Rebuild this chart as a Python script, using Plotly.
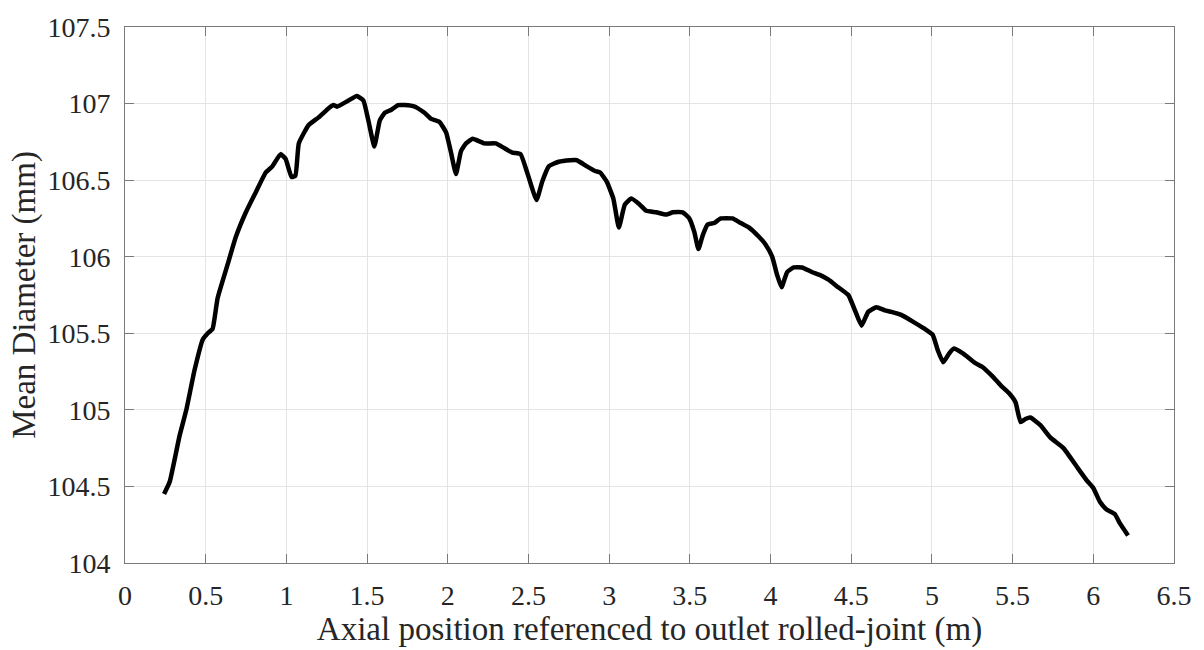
import plotly.graph_objects as go

axial_position_m = [
    0.242, 0.277, 0.338, 0.38, 0.431, 0.482, 0.513, 0.543, 0.574, 0.636, 0.687,
    0.749, 0.81, 0.872, 0.913, 0.964, 0.995, 1.032, 1.056, 1.077, 1.138, 1.2,
    1.262, 1.292, 1.313, 1.385, 1.436, 1.477, 1.508, 1.545, 1.579, 1.61, 1.651,
    1.692, 1.733, 1.795, 1.856, 1.897, 1.949, 1.99, 2.02, 2.051, 2.082, 2.113,
    2.154, 2.226, 2.297, 2.349, 2.4, 2.451, 2.492, 2.55, 2.585, 2.626, 2.687,
    2.759, 2.8, 2.862, 2.913, 2.944, 2.985, 3.026, 3.06, 3.097, 3.138, 3.19,
    3.23, 3.292, 3.354, 3.395, 3.456, 3.497, 3.528, 3.553, 3.58, 3.61, 3.651,
    3.692, 3.764, 3.815, 3.867, 3.928, 3.969, 4.01, 4.041, 4.068, 4.103, 4.144,
    4.195, 4.256, 4.308, 4.359, 4.42, 4.482, 4.523, 4.564, 4.605, 4.656, 4.708,
    4.749, 4.81, 4.892, 4.954, 5.005, 5.036, 5.07, 5.108, 5.134, 5.19, 5.262,
    5.313, 5.374, 5.426, 5.477, 5.518, 5.549, 5.579, 5.61, 5.672, 5.733, 5.815,
    5.897, 5.959, 6.0, 6.041, 6.082, 6.133, 6.164, 6.215,
]
mean_diameter_mm = [
    104.45, 104.53, 104.83, 105.0, 105.26, 105.46, 105.5, 105.53, 105.73, 105.95, 106.13,
    106.29, 106.42, 106.55, 106.59, 106.67, 106.64, 106.52, 106.53, 106.74, 106.86, 106.91,
    106.97, 106.99, 106.98, 107.02, 107.05, 107.02, 106.89, 106.72, 106.89, 106.94, 106.96,
    106.99, 106.99, 106.98, 106.94, 106.90, 106.88, 106.81, 106.68, 106.54, 106.69, 106.74,
    106.77, 106.74, 106.74, 106.71, 106.68, 106.67, 106.55, 106.37, 106.49, 106.59, 106.62,
    106.63, 106.63, 106.59, 106.56, 106.55, 106.49, 106.38, 106.19, 106.34, 106.38, 106.34,
    106.30, 106.29, 106.275, 106.29, 106.29, 106.25, 106.16, 106.05, 106.14, 106.21, 106.22,
    106.25, 106.25, 106.22, 106.19, 106.13, 106.08, 106.0, 105.88, 105.80, 105.90, 105.93,
    105.93, 105.90, 105.88, 105.85, 105.80, 105.75, 105.65, 105.55, 105.64, 105.67, 105.65,
    105.64, 105.62, 105.57, 105.53, 105.49, 105.39, 105.31, 105.37, 105.40, 105.37, 105.31,
    105.28, 105.22, 105.16, 105.11, 105.05, 104.92, 104.94, 104.95, 104.90, 104.82, 104.75,
    104.63, 104.54, 104.49, 104.40, 104.35, 104.32, 104.26, 104.18,
]

x_ticks = [0, 0.5, 1, 1.5, 2, 2.5, 3, 3.5, 4, 4.5, 5, 5.5, 6, 6.5]
x_tick_labels = ["0", "0.5", "1", "1.5", "2", "2.5", "3", "3.5", "4", "4.5", "5", "5.5", "6", "6.5"]
y_ticks = [104, 104.5, 105, 105.5, 106, 106.5, 107, 107.5]
y_tick_labels = ["104", "104.5", "105", "105.5", "106", "106.5", "107", "107.5"]

fig = go.Figure()
fig.add_trace(go.Scatter(
    x=axial_position_m, y=mean_diameter_mm, mode="lines",
    line=dict(color="black", width=4.5, shape="spline", smoothing=0.4),
    showlegend=False,
))

axis_common = dict(
    showline=True, linecolor="#7a7a7a", linewidth=1, mirror="ticks",
    ticks="inside", ticklen=9, tickwidth=1, tickcolor="#7a7a7a",
    showgrid=True, gridcolor="#e4e4e4", gridwidth=1, zeroline=False,
    tickfont=dict(family="Liberation Serif", size=28, color="#262626"),
)

fig.update_xaxes(
    range=[0, 6.5], tickvals=x_ticks, ticktext=x_tick_labels,
    title=dict(text="Axial position referenced to outlet rolled-joint (m)",
               font=dict(family="Liberation Serif", size=33, color="#262626"), standoff=0),
    ticklabelstandoff=7,
    **axis_common,
)
fig.update_yaxes(
    range=[104, 107.5], tickvals=y_ticks, ticktext=y_tick_labels,
    title=dict(text="Mean Diameter (mm)",
               font=dict(family="Liberation Serif", size=33, color="#262626"), standoff=1),
    ticklabelstandoff=8,
    **axis_common,
)

fig.update_layout(
    width=1204, height=650,
    margin=dict(l=125, r=24, t=19, b=87),
    paper_bgcolor="white", plot_bgcolor="white",
)

fig.write_html("out.html")
